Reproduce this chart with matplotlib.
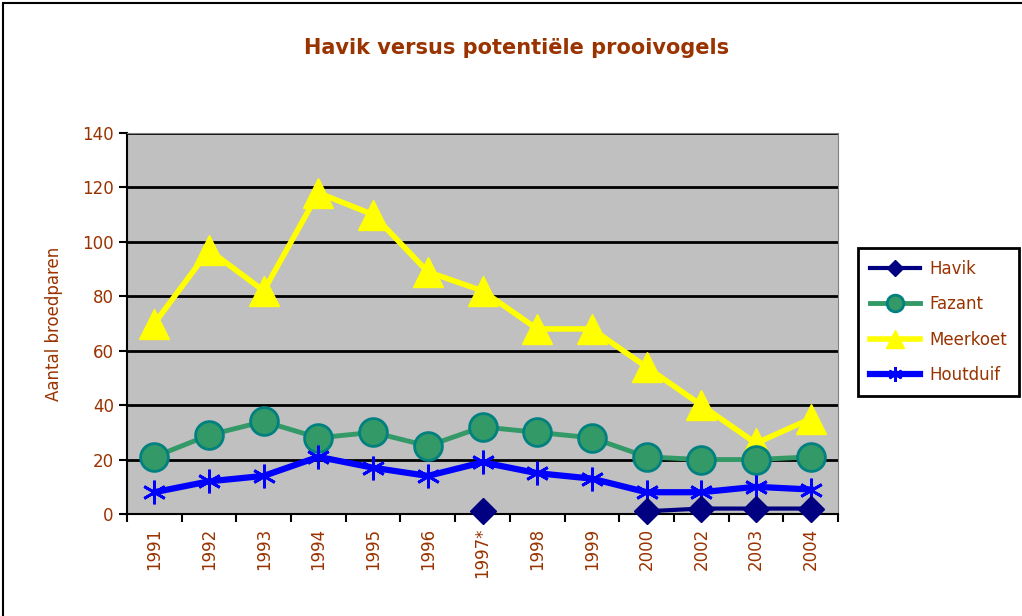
import matplotlib.pyplot as plt
from matplotlib.patches import Rectangle
import numpy as np

years = ["1991", "1992", "1993", "1994", "1995", "1996", "1997*",
         "1998", "1999", "2000", "2002", "2003", "2004"]
havik = [None, None, None, None, None, None, 1, None, None, 1, 2, 2, 2]
fazant = [21, 29, 34, 28, 30, 25, 32, 30, 28, 21, 20, 20, 21]
meerkoet = [70, 97, 82, 118, 110, 89, 82, 68, 68, 54, 40, 26, 35]
houtduif = [8, 12, 14, 21, 17, 14, 19, 15, 13, 8, 8, 10, 9]

brown = "#993300"
plt.rcParams['font.family'] = ['DejaVu Sans']

fig = plt.figure(figsize=(10.22, 6.16), dpi=100)
ax = fig.add_axes([127 / 1022, 102 / 616, 711 / 1022, 381 / 616])
ax.set_facecolor("#C0C0C0")

x = np.arange(len(years))
hv = np.array([np.nan if v is None else v for v in havik], dtype=float)

ax.plot(x, hv, color="#000080", lw=3, marker="D", ms=13,
        mfc="#000080", mec="#000080", label="Havik", zorder=6, clip_on=False)
ax.plot(x, fazant, color="#339966", lw=3.5, marker="o", ms=20,
        mfc="#339966", mec="#008080", mew=2, label="Fazant", zorder=4)
ax.plot(x, meerkoet, color="#FFFF00", lw=4, marker="^", ms=22,
        mfc="#FFFF00", mec="#FFFF00", label="Meerkoet", zorder=3)
ax.plot(x, houtduif, color="#0000FF", lw=4.5, marker=(6, 2, 0), ms=17,
        mfc="#0000FF", mec="#0000FF", mew=2, label="Houtduif", zorder=5)

ax.set_xlim(-0.5, len(years) - 0.5)
ax.set_ylim(0, 140)
ax.set_yticks(range(0, 141, 20))
ax.yaxis.grid(True, color="black", lw=2)
ax.set_axisbelow(True)

ax.set_xticks(x)
ax.set_xticklabels(years, rotation=90, color=brown, fontsize=12)
ax.set_xticks(np.arange(-0.5, len(years), 1), minor=True)
ax.tick_params(axis="x", which="major", length=0, pad=10)
ax.tick_params(axis="x", which="minor", length=6, width=1.5, direction="out")
ax.tick_params(axis="y", length=6, width=1.5, labelcolor=brown, labelsize=12)

for s in ["top", "right"]:
    ax.spines[s].set_color("#808080")
for s in ["left", "bottom"]:
    ax.spines[s].set_linewidth(1.5)

ax.set_ylabel("Aantal broedparen", color=brown, fontsize=12, labelpad=14)
fig.text(0.505, 0.922, "Havik versus potentiële prooivogels", color=brown,
         fontsize=15, fontweight="bold", ha="center", va="center")

leg = fig.legend(loc="upper left", bbox_to_anchor=(858 / 1022, 1 - 248 / 616),
                 fontsize=12, frameon=True, fancybox=False, edgecolor="black",
                 framealpha=1, borderpad=0.7, labelspacing=1.05, handlelength=3.0,
                 handletextpad=0.6, borderaxespad=0, markerscale=0.6)
leg.get_frame().set_linewidth(2)
for t in leg.get_texts():
    t.set_color(brown)

fig.patches.append(Rectangle((0.003, -0.01), 1.01, 1.005, transform=fig.transFigure,
                             fill=False, edgecolor="black", lw=1.5))

fig.savefig("out.png", dpi=100)
